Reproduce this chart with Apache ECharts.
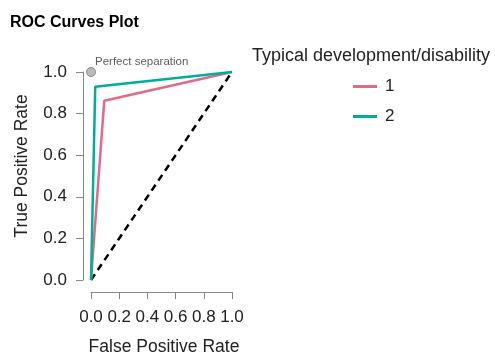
<!DOCTYPE html>
<html>
<head>
<meta charset="utf-8">
<script src="https://cdn.jsdelivr.net/npm/echarts@6/dist/echarts.min.js"></script>
<style>html,body{margin:0;padding:0;background:#fff;}#c{width:495px;height:356px;}</style>
</head>
<body>
<div id="c"></div>
<script>
var seriesNames = ['1', '2'];
var fpr1 = [0, 0.094, 1];
var tpr1 = [0, 0.862, 1];
var fpr2 = [0, 0.03, 1];
var tpr2 = [0, 0.929, 1];
var diagX = [0, 1];
var diagY = [0, 1];
var perfectPoint = [0, 1];
var tickValues = [0, 0.2, 0.4, 0.6, 0.8, 1.0];

function pairs(xs, ys) { return xs.map(function (x, i) { return [x, ys[i]]; }); }

var font = 'Liberation Sans, Arial, sans-serif';
var chart = echarts.init(document.getElementById('c'), null, {renderer: 'canvas'});
chart.setOption({
  animation: false,
  textStyle: {fontFamily: font},
  title: {text: 'ROC Curves Plot', left: 5, top: 10,
    textStyle: {fontSize: 16, fontWeight: 'bold', color: '#000', fontFamily: font}},
  grid: {left: 91, right: 263, top: 72, bottom: 76},
  legend: {
    data: seriesNames, orient: 'vertical', left: 348, top: 73,
    icon: 'rect', itemWidth: 24, itemHeight: 3, itemGap: 13,
    textStyle: {fontSize: 17, color: '#222', fontFamily: font, padding: [0, 0, 0, 3]}
  },
  graphic: [
    {type: 'text', left: 252, top: 47, style: {text: 'Typical development/disability', fontSize: 18, fill: '#222', fontFamily: font}},
    {type: 'text', x: 22, y: 166, rotation: Math.PI / 2,
      style: {text: 'True Positive Rate', fontSize: 17.5, fill: '#222', fontFamily: font, align: 'center', verticalAlign: 'middle'}},
    {type: 'text', x: 164, y: 347,
      style: {text: 'False Positive Rate', fontSize: 17.5, fill: '#222', fontFamily: font, align: 'center', verticalAlign: 'middle'}}
  ],
  xAxis: {
    type: 'value', min: 0, max: 1, interval: 0.2, offset: 12,
    axisLine: {show: true, onZero: false, lineStyle: {color: '#888', width: 1}},
    axisTick: {show: true, length: 7, lineStyle: {color: '#888'}},
    splitLine: {show: false},
    axisLabel: {fontSize: 17, color: '#222', margin: 17, fontFamily: font,
      formatter: function (v) { return v.toFixed(1); }}
  },
  yAxis: {
    type: 'value', min: 0, max: 1, interval: 0.2, offset: 8,
    axisLine: {show: true, onZero: false, lineStyle: {color: '#888', width: 1}},
    axisTick: {show: true, length: 7, lineStyle: {color: '#888'}},
    splitLine: {show: false},
    axisLabel: {fontSize: 17, color: '#222', margin: 16, fontFamily: font,
      formatter: function (v) { return v.toFixed(1); }}
  },
  series: [
    {name: 'diag', type: 'line', data: pairs(diagX, diagY), symbol: 'none', clip: false,
      lineStyle: {color: '#000', width: 2.5, type: [7, 5]}, z: 1},
    {name: seriesNames[0], type: 'line', data: pairs(fpr1, tpr1), symbol: 'none', clip: false,
      itemStyle: {color: '#E16A86'}, lineStyle: {color: '#E16A86', width: 2.5}, z: 2},
    {name: seriesNames[1], type: 'line', data: pairs(fpr2, tpr2), symbol: 'none', clip: false,
      itemStyle: {color: '#00AD9A'}, lineStyle: {color: '#00AD9A', width: 2.5}, z: 3},
    {name: 'perfect', type: 'scatter', data: [perfectPoint], symbolSize: 9, clip: false,
      itemStyle: {color: '#aaa', borderColor: '#777', borderWidth: 1}, z: 4,
      label: {show: true, formatter: 'Perfect separation', position: 'right', distance: 0,
        offset: [-1, -10], fontSize: 11.5, color: '#333', fontFamily: font}}
  ]
});
</script>
</body>
</html>
